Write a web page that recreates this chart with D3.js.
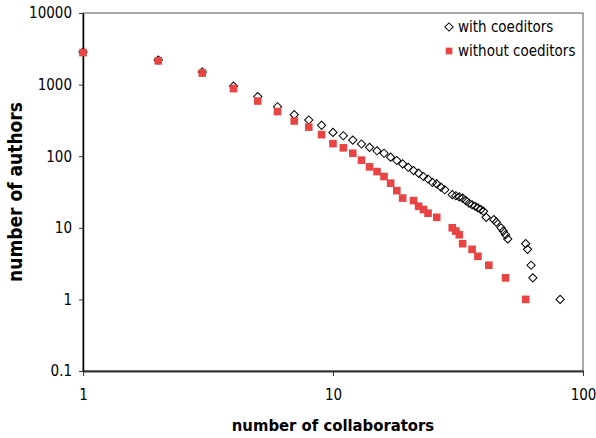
<!DOCTYPE html>
<html>
<head>
<meta charset="utf-8">
<script src="https://cdn.jsdelivr.net/npm/d3@7"></script>
<style>
  body { margin: 0; background: #fff; }
  .tick text { font-family: "DejaVu Sans Condensed", "DejaVu Sans", sans-serif; font-size: 15px; fill: #000; }
  .legend text { font-family: "DejaVu Sans Condensed", "DejaVu Sans", sans-serif; font-size: 15px; fill: #000; }
  .axis-title { font-family: "DejaVu Sans Condensed", "DejaVu Sans", sans-serif; font-weight: bold; fill: #000; }
</style>
</head>
<body>
<div id="chart"></div>
<script>
// number of collaborators (x) and number of authors (y)
const withX = [1,2,3,4,5,6,7,8,9,10,11,12,13,14,15,16,17,18,19,20,21,22,23,24,25,26,27,28,
               30,31,32,33,34,35,36,37,38,39,40,41,44,45,47,48,49,50,59,60,62,63,81]
const withY = [2850,2200,1500,950,680,490,380,320,270,215,193,168,148,133,119,110,97,87,78,70,63,58,52,48,43,41,37,34,
               29,28,27,26,24,22,21,20,19,18,17,14,13,12,10,9,8,7,6,5,3,2,1]

const withoutX = [1,2,3,4,5,6,7,8,9,10,11,12,13,14,15,16,17,18,19,21,22,23,24,26,30,31,32,33,36,38,42,49,59]
const withoutY = [2800,2150,1450,880,590,420,310,255,200,150,131,110,88,71,61,52,42,33,26,24,20,18,16,14,10,9,8,6,5,4,3,2,1]

const xTicks = [1, 10, 100]
const yTicks = [0.1, 1, 10, 100, 1000, 10000]
const seriesNames = ["with coeditors", "without coeditors"]

class Scatter {
    constructor(_config) {
        this.config = {
            parentElement: _config.parentElement,
            containerWidth: 596,
            containerHeight: 438,
            margin: { top: 13, right: 13, bottom: 67, left: 83 }
        }
        this.withData = withX.map((x, i) => ({ x: x, y: withY[i] }))
        this.withoutData = withoutX.map((x, i) => ({ x: x, y: withoutY[i] }))
        this.initVis()
    }

    initVis() {
        var vis = this

        vis.config.visWidth = vis.config.containerWidth - vis.config.margin.left - vis.config.margin.right
        vis.config.visHeight = vis.config.containerHeight - vis.config.margin.top - vis.config.margin.bottom

        vis.xScale = d3.scaleLog()
            .domain([1, 100])
            .range([0, vis.config.visWidth])
        vis.yScale = d3.scaleLog()
            .domain([0.1, 10000])
            .range([vis.config.visHeight, 0])

        vis.xAxis = d3.axisBottom(vis.xScale)
            .tickValues(xTicks)
            .tickFormat(d3.format("~g"))
            .tickSizeInner(5)
            .tickSizeOuter(0)
            .tickPadding(13)
        vis.yAxis = d3.axisLeft(vis.yScale)
            .tickValues(yTicks)
            .tickFormat(d => String(d))
            .tickSizeInner(4)
            .tickSizeOuter(0)
            .tickPadding(7)

        vis.svg = d3.select(vis.config.parentElement).append("svg")
            .attr("width", vis.config.containerWidth)
            .attr("height", vis.config.containerHeight)

        vis.chart = vis.svg.append("g")
            .attr("transform", `translate(${vis.config.margin.left},${vis.config.margin.top})`)

        // plot frame (top and right edges)
        vis.chart.append("rect")
            .attr("width", vis.config.visWidth)
            .attr("height", vis.config.visHeight)
            .attr("fill", "none")
            .attr("stroke", "#555")
            .attr("stroke-width", 1)

        vis.xAxisGroup = vis.chart.append("g")
            .attr("class", "axis x-axis")
            .attr("transform", `translate(0,${vis.config.visHeight})`)
            .call(vis.xAxis)
        vis.xAxisGroup.select(".domain").attr("stroke", "#333").attr("stroke-width", 2)
        vis.xAxisGroup.selectAll(".tick line").attr("stroke", "#333")

        vis.yAxisGroup = vis.chart.append("g")
            .attr("class", "axis y-axis")
            .call(vis.yAxis)
        vis.yAxisGroup.select(".domain").attr("stroke", "#000").attr("stroke-width", 1.5)
        vis.yAxisGroup.selectAll(".tick line").attr("stroke", "#333")

        vis.svg.append("text")
            .attr("class", "axis-title")
            .attr("x", vis.config.margin.left + vis.config.visWidth / 2)
            .attr("y", 431)
            .style("text-anchor", "middle")
            .style("font-size", "16.5px")
            .text("number of collaborators")

        vis.svg.append("text")
            .attr("class", "axis-title")
            .attr("transform", `translate(22,${vis.config.margin.top + vis.config.visHeight / 2}) rotate(-90)`)
            .style("text-anchor", "middle")
            .style("font-size", "19px")
            .text("number of authors")

        vis.renderVis()
    }

    renderVis() {
        var vis = this
        var diamond = d3.symbol().type(d3.symbolSquare).size(34)
        var square = d3.symbol().type(d3.symbolSquare).size(58)

        vis.chart.selectAll(".with")
            .data(vis.withData)
            .join("path")
                .attr("class", "with")
                .attr("d", diamond)
                .attr("fill", "none")
                .attr("stroke", "#000")
                .attr("stroke-width", 1)
                .attr("transform", d => `translate(${vis.xScale(d.x)},${vis.yScale(d.y)}) rotate(45)`)

        vis.chart.selectAll(".without")
            .data(vis.withoutData)
            .join("path")
                .attr("class", "without")
                .attr("d", square)
                .attr("fill", "#e84444")
                .attr("transform", d => `translate(${vis.xScale(d.x)},${vis.yScale(d.y)})`)

        var legend = vis.svg.append("g").attr("class", "legend")
        legend.append("path")
            .attr("d", diamond)
            .attr("fill", "none")
            .attr("stroke", "#000")
            .attr("transform", "translate(449,27) rotate(45)")
        legend.append("path")
            .attr("d", d3.symbol().type(d3.symbolSquare).size(45))
            .attr("fill", "#e84444")
            .attr("transform", "translate(449,51)")
        legend.selectAll("text")
            .data(seriesNames)
            .join("text")
                .attr("x", 458)
                .attr("y", (d, i) => 32 + i * 24)
                .text(d => d)
    }
}

new Scatter({ parentElement: "#chart" })
</script>
</body>
</html>
